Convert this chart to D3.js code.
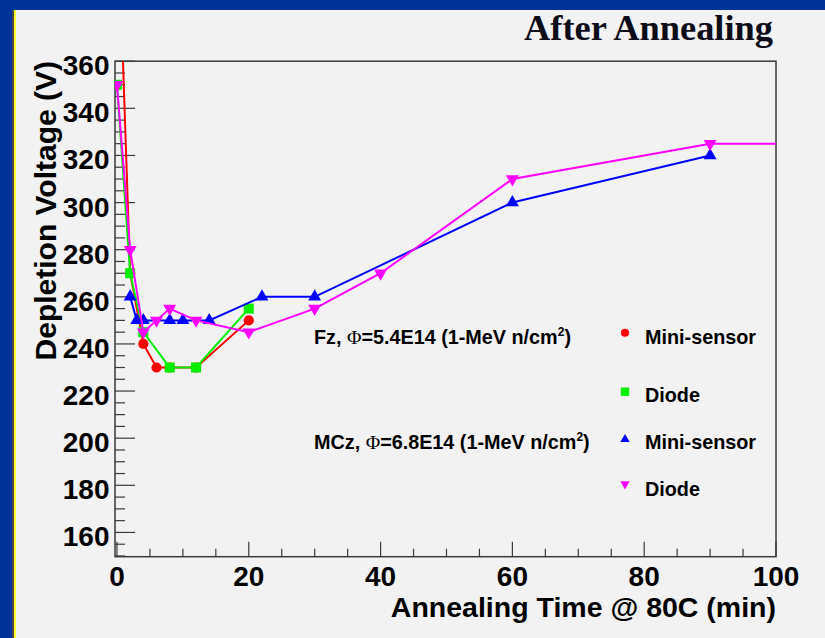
<!DOCTYPE html>
<html>
<head>
<meta charset="utf-8">
<script src="https://cdn.jsdelivr.net/npm/d3@7"></script>
<style>
  html, body { margin: 0; padding: 0; background: #003399; }
  svg { display: block; }
</style>
</head>
<body>
<div id="chart"></div>
<script>
// Fz, mini-sensor (red circles)
var fzSensorTime = [0, 2, 4, 6, 8, 12, 20];
var fzSensorVolt = [435, 270, 240, 230, 230, 230, 250];
// Fz, diode (green squares)
var fzDiodeTime = [0, 2, 4, 8, 12, 20];
var fzDiodeVolt = [350, 270, 245, 230, 230, 255];
// MCz, mini-sensor (blue triangles)
var mczSensorTime = [2, 3, 4, 8, 10, 14, 22, 30, 60, 90];
var mczSensorVolt = [260, 250, 250, 250, 250, 250, 260, 260, 300, 320];
// MCz, diode (magenta down triangles)
var mczDiodeTime = [0, 2, 4, 6, 8, 12, 20, 30, 40, 60, 90, 130];
var mczDiodeVolt = [350, 280, 245, 250, 255, 250, 245, 255, 270, 310, 325, 325];

var xTicks = [0, 20, 40, 60, 80, 100];
var yTicks = [160, 180, 200, 220, 240, 260, 280, 300, 320, 340, 360];
var legendGroups = ["Fz, \u03A6=5.4E14 (1-MeV n/cm", "MCz, \u03A6=6.8E14 (1-MeV n/cm"];
var legendNames = ["Mini-sensor", "Diode", "Mini-sensor", "Diode"];

function init() {
    var w = 825, h = 638;
    var left = 115, right = 776, top = 61.2, bottom = 556.7;

    var svg = d3.select("#chart")
                .append("svg")
                .attr("width", w)
                .attr("height", h);

    // slide background
    svg.append("rect").attr("x", 0).attr("y", 0).attr("width", w).attr("height", h).attr("fill", "#003399");
    svg.append("rect").attr("x", 12).attr("y", 10).attr("width", w - 12).attr("height", h - 10).attr("fill", "#4a4a4a");
    svg.append("rect").attr("x", 14).attr("y", 10).attr("width", w - 14).attr("height", h - 10).attr("fill", "#ffff33");
    svg.append("rect").attr("x", 16).attr("y", 10).attr("width", w - 16).attr("height", h - 10).attr("fill", "#f2f2f2");

    svg.append("text")
        .attr("x", 773).attr("y", 40)
        .attr("text-anchor", "end")
        .attr("textLength", 249)
        .attr("lengthAdjust", "spacingAndGlyphs")
        .style("font-family", "'Liberation Serif', 'DejaVu Serif', serif")
        .style("font-weight", "bold")
        .style("font-size", "36px")
        .attr("fill", "#0d0d1a")
        .text("After Annealing");

    var xScale = d3.scaleLinear().domain([-0.3, 100]).range([left, right]);
    var yScale = d3.scaleLinear().domain([149.7, 360]).range([bottom, top]);

    // frame
    svg.append("rect")
        .attr("x", left).attr("y", top)
        .attr("width", right - left).attr("height", bottom - top)
        .attr("fill", "none").attr("stroke", "#3a3a3a").attr("stroke-width", 1.5);

    // x ticks (major every 20, minor every 5)
    var xMinor = d3.range(0, 101, 5);
    svg.append("g").selectAll("line")
        .data(xMinor)
        .enter()
        .append("line")
        .attr("x1", function(d) { return xScale(d); })
        .attr("x2", function(d) { return xScale(d); })
        .attr("y1", bottom)
        .attr("y2", function(d) { return d % 20 == 0 ? bottom - 15 : bottom - 8; })
        .attr("stroke", "#3a3a3a").attr("stroke-width", 1.2);

    var yMinor = d3.range(150, 361, 5);
    svg.append("g").selectAll("line")
        .data(yMinor)
        .enter()
        .append("line")
        .attr("y1", function(d) { return yScale(d); })
        .attr("y2", function(d) { return yScale(d); })
        .attr("x1", left)
        .attr("x2", function(d) { return (d - 160) % 20 == 0 ? left + 20 : left + 10; })
        .attr("stroke", "#3a3a3a").attr("stroke-width", 1.2);

    var labelFont = "'Liberation Sans', Arial, sans-serif";

    svg.append("g").selectAll("text")
        .data(xTicks)
        .enter()
        .append("text")
        .attr("x", function(d) { return xScale(d); })
        .attr("y", 586)
        .attr("text-anchor", "middle")
        .style("font-family", labelFont).style("font-weight", "bold").style("font-size", "28px")
        .text(function(d) { return d; });

    svg.append("g").selectAll("text")
        .data(yTicks)
        .enter()
        .append("text")
        .attr("x", 109.5)
        .attr("y", function(d) { return yScale(d) + 14; })
        .attr("text-anchor", "end")
        .style("font-family", labelFont).style("font-weight", "bold").style("font-size", "28px")
        .text(function(d) { return d; });

    // axis titles
    svg.append("text")
        .attr("x", 776).attr("y", 617)
        .attr("text-anchor", "end")
        .style("font-family", labelFont).style("font-weight", "bold").style("font-size", "28.5px")
        .text("Annealing Time @ 80C (min)");

    svg.append("text")
        .attr("transform", "translate(55.5,61) rotate(-90)")
        .attr("text-anchor", "end")
        .style("font-family", labelFont).style("font-weight", "bold").style("font-size", "30px")
        .text("Depletion Voltage (V)");

    // data
    svg.append("clipPath").attr("id", "frameClip")
        .append("rect").attr("x", left).attr("y", top)
        .attr("width", right - left).attr("height", bottom - top);

    var plot = svg.append("g").attr("clip-path", "url(#frameClip)");

    var series = [
        {t: fzSensorTime, v: fzSensorVolt, color: "#ff0000", sym: d3.symbolCircle, size: 82, legSize: 52, rot: 0},
        {t: fzDiodeTime, v: fzDiodeVolt, color: "#00ee00", sym: d3.symbolSquare, size: 100, legSize: 70, rot: 0},
        {t: mczSensorTime, v: mczSensorVolt, color: "#0000ff", sym: d3.symbolTriangle, size: 72, legSize: 38, rot: 0},
        {t: mczDiodeTime, v: mczDiodeVolt, color: "#ff00ff", sym: d3.symbolTriangle, size: 72, legSize: 38, rot: 180}
    ];

    var line = d3.line()
        .x(function(d) { return xScale(d[0]); })
        .y(function(d) { return yScale(d[1]); });

    series.forEach(function(s) {
        var pts = s.t.map(function(t, i) { return [t, s.v[i]]; });
        plot.append("path")
            .attr("d", line(pts))
            .attr("fill", "none")
            .attr("stroke", s.color)
            .attr("stroke-width", 2);
        var inside = pts.filter(function(p) { return p[0] <= 100 && p[1] <= 360; });
        plot.selectAll(null)
            .data(inside)
            .enter()
            .append("path")
            .attr("d", d3.symbol().type(s.sym).size(s.size))
            .attr("transform", function(d) {
                return "translate(" + xScale(d[0]) + "," + yScale(d[1]) + ") rotate(" + s.rot + ")";
            })
            .attr("fill", s.color);
    });

    // legend
    var legY = [344, 449.3];
    legendGroups.forEach(function(g, i) {
        var txt = svg.append("text")
            .attr("x", 314).attr("y", legY[i])
            .style("font-family", labelFont).style("font-weight", "bold").style("font-size", "19.8px");
        var parts = g.split("\u03A6");
        txt.append("tspan").text(parts[0]);
        txt.append("tspan").style("font-family", "'Liberation Serif', serif").style("font-weight", "normal").text("\u03A6");
        txt.append("tspan").text(parts[1]);
        txt.append("tspan").attr("dy", -8).style("font-size", "12px").text("2");
        txt.append("tspan").attr("dy", 8).text(")");
    });

    var nameY = [344, 402.3, 449.3, 496];
    var markY = [332.7, 391.7, 439.3, 484];
    legendNames.forEach(function(n, i) {
        svg.append("text")
            .attr("x", 645).attr("y", nameY[i])
            .style("font-family", labelFont).style("font-weight", "bold").style("font-size", "19.8px")
            .text(n);
        var s = series[i];
        svg.append("path")
            .attr("d", d3.symbol().type(s.sym).size(s.legSize))
            .attr("transform", "translate(625," + markY[i] + ") rotate(" + s.rot + ")")
            .attr("fill", s.color);
    });
}

window.onload = init();
</script>
</body>
</html>
